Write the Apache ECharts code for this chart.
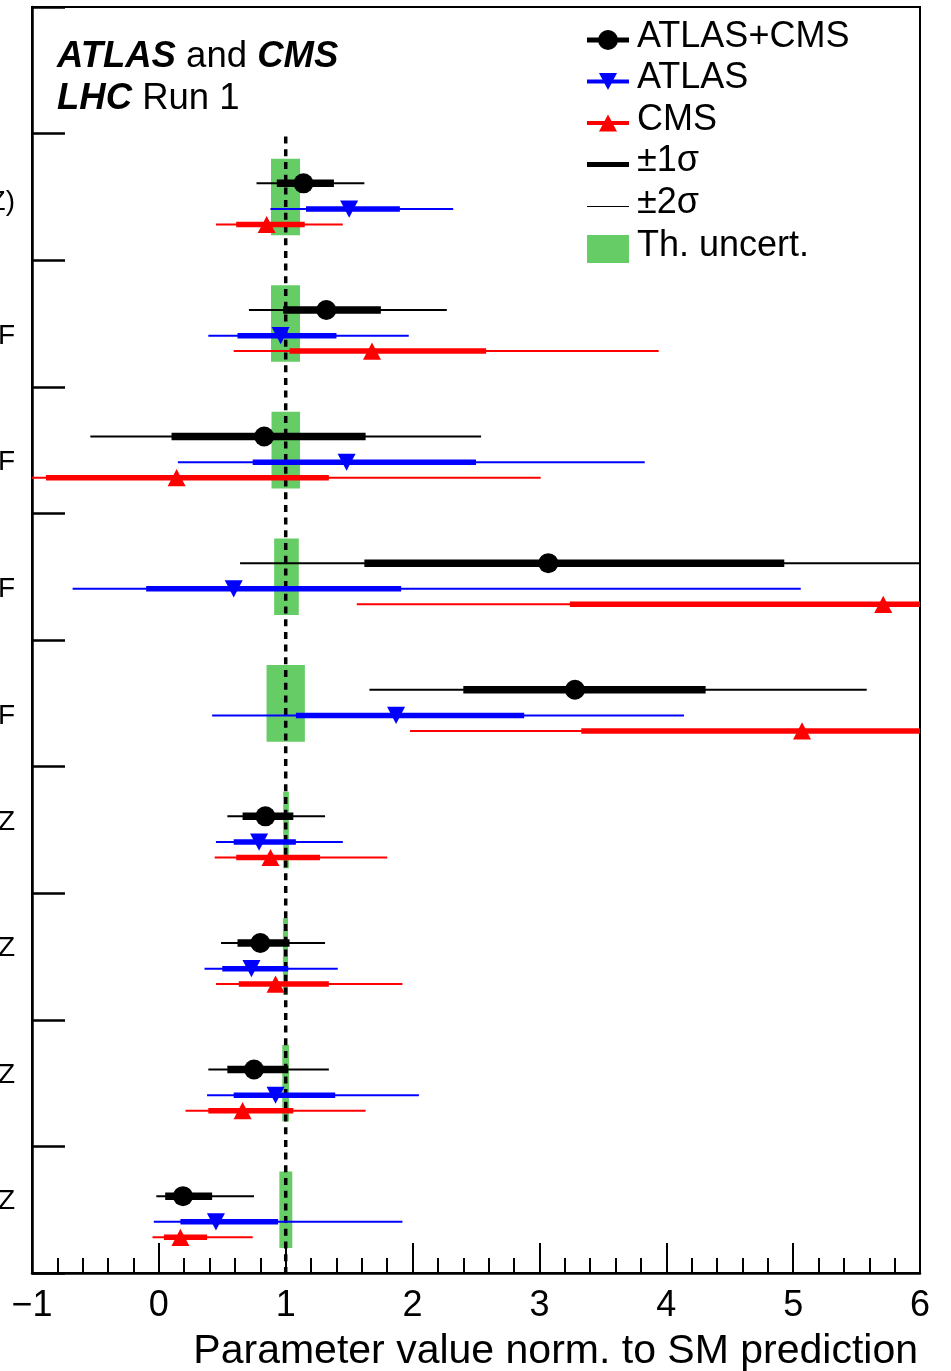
<!DOCTYPE html>
<html>
<head>
<meta charset="utf-8">
<script src="https://cdn.jsdelivr.net/npm/echarts@6/dist/echarts.min.js"></script>
<style>
  html, body { margin: 0; padding: 0; background: #ffffff; }
  #chart { width: 951px; height: 1371px; }
</style>
</head>
<body>
<div id="chart"></div>
<script>
// Fitted parameters, top to bottom (the first band is kept free for the header)
const parameters = ['', 'σ(gg→H→ZZ)', 'σVBF/σggF', 'σWH/σggF', 'σZH/σggF', 'σttH/σggF',
                    'BWW/BZZ', 'Bγγ/BZZ', 'Bττ/BZZ', 'Bbb/BZZ'];

// Each row: [best fit, 1σ low, 1σ high, 2σ low, 2σ high], normalised to the SM
const combined = [
  [1.14, 0.93, 1.38, 0.77, 1.62],
  [1.32, 0.98, 1.75, 0.71, 2.27],
  [0.83, 0.10, 1.63, -0.54, 2.54],
  [3.07, 1.62, 4.93, 0.64, 6.40],
  [3.28, 2.40, 4.31, 1.66, 5.58],
  [0.84, 0.66, 1.06, 0.54, 1.31],
  [0.80, 0.62, 1.03, 0.49, 1.31],
  [0.75, 0.54, 1.02, 0.39, 1.34],
  [0.19, 0.05, 0.42, -0.02, 0.75]
];
const atlas = [
  [1.50, 1.16, 1.90, 0.88, 2.32],
  [0.96, 0.62, 1.40, 0.39, 1.97],
  [1.48, 0.74, 2.50, 0.15, 3.83],
  [0.59, -0.10, 1.91, -0.68, 5.06],
  [1.87, 1.08, 2.88, 0.42, 4.14],
  [0.79, 0.59, 1.08, 0.45, 1.45],
  [0.73, 0.50, 1.02, 0.36, 1.41],
  [0.92, 0.59, 1.39, 0.38, 2.05],
  [0.45, 0.17, 0.94, -0.04, 1.92]
];
const cms = [
  [0.85, 0.61, 1.15, 0.45, 1.45],
  [1.68, 1.03, 2.58, 0.59, 3.94],
  [0.14, -0.89, 1.34, -1.30, 3.01],
  [5.71, 3.24, 7.00, 1.56, 8.50],
  [5.07, 3.33, 6.60, 1.98, 7.80],
  [0.88, 0.61, 1.27, 0.44, 1.80],
  [0.92, 0.63, 1.34, 0.45, 1.92],
  [0.66, 0.39, 1.06, 0.21, 1.63],
  [0.17, 0.04, 0.38, -0.05, 0.74]
];
// Theory uncertainty band on the SM prediction: [low, high]
const theory = [
  [0.884, 1.113], [0.884, 1.113], [0.888, 1.113], [0.909, 1.103], [0.849, 1.151],
  [0.980, 1.025], [0.978, 1.018], [0.973, 1.026], [0.950, 1.052]
];
const smValue = 1;
const xTickLabels = ['−1', '0', '1', '2', '3', '4', '5', '6'];
const legendLabels = ['ATLAS+CMS', 'ATLAS', 'CMS', '±1σ', '±2σ', 'Th. uncert.'];

const FONT = '"Liberation Sans", Arial, Helvetica, sans-serif';
const GREEN = '#66cc66';

const experiments = [
  { name: 'ATLAS+CMS', rows: combined, color: '#000000', offset: -0.107, thick: 7.5, marker: 'circle' },
  { name: 'ATLAS',     rows: atlas,    color: '#0000ff', offset:  0.096, thick: 5.5, marker: 'down' },
  { name: 'CMS',       rows: cms,      color: '#ff0000', offset:  0.218, thick: 5.5, marker: 'up' }
];

function markerShape(kind, x, y, color) {
  if (kind === 'circle') {
    return { type: 'circle', shape: { cx: x, cy: y, r: 10 }, style: { fill: color } };
  }
  const w = 9, h = 8.6;
  const pts = kind === 'down'
    ? [[x - w, y - h], [x + w, y - h], [x, y + h]]
    : [[x - w, y + h], [x + w, y + h], [x, y - h]];
  return { type: 'polygon', shape: { points: pts }, style: { fill: color } };
}

function errorBarSeries(exp) {
  return {
    type: 'custom',
    name: exp.name,
    clip: true,
    z: 3,
    data: exp.rows.map((r, i) => r.concat([i + 1])),
    encode: { x: [0, 1, 2, 3, 4], y: 5 },
    renderItem(params, api) {
      const cat = api.value(5);
      const band = api.size([0, 1])[1];
      const y = api.coord([0, cat])[1] + exp.offset * band;
      const px = (v) => api.coord([v, cat])[0];
      return {
        type: 'group',
        children: [
          { type: 'line', shape: { x1: px(api.value(3)), y1: y, x2: px(api.value(4)), y2: y },
            style: { stroke: exp.color, lineWidth: 2 } },
          { type: 'line', shape: { x1: px(api.value(1)), y1: y, x2: px(api.value(2)), y2: y },
            style: { stroke: exp.color, lineWidth: exp.thick } },
          markerShape(exp.marker, px(api.value(0)), y, exp.color)
        ]
      };
    }
  };
}

// Subscript endings (…ggF) sit lower, superscript endings (…ZZ) higher:
// an empty companion line above or below shifts the visible line.
function parameterLabel(name) {
  if (!name) return '';
  const blank = '\u00a0';
  if (name.indexOf('/σ') >= 0) return '{lo|' + blank + '}\n{lo|' + name + '}';
  if (name.charAt(0) === 'B') return '{hi|' + name + '}\n{hi|' + blank + '}';
  return '{mid|' + blank + '}\n{mid|' + name + '}';
}
const labelFont = { fontSize: 28, fontFamily: FONT, color: '#000000' };

// Legend drawn as graphic elements
const legendX0 = 587, legendX1 = 629, legendTextX = 637;
const legendRowY = [40, 81.5, 123, 164.5, 206.5, 249];
function legendIcon(i, y) {
  const mid = (legendX0 + legendX1) / 2;
  const line = (color, w) => ({ type: 'line', shape: { x1: legendX0, y1: y, x2: legendX1, y2: y },
                                style: { stroke: color, lineWidth: w } });
  switch (i) {
    case 0: return [line('#000000', 5), markerShape('circle', mid, y, '#000000')];
    case 1: return [line('#0000ff', 4), markerShape('down', mid, y, '#0000ff')];
    case 2: return [line('#ff0000', 4), markerShape('up', mid, y, '#ff0000')];
    case 3: return [line('#000000', 5)];
    case 4: return [line('#000000', 1.2)];
    default: return [{ type: 'rect', shape: { x: legendX0, y: y - 14, width: legendX1 - legendX0, height: 28 },
                       style: { fill: GREEN } }];
  }
}
const legendGraphics = [];
legendLabels.forEach((label, i) => {
  const y = legendRowY[i];
  legendIcon(i, y).forEach((el) => legendGraphics.push(el));
  legendGraphics.push({
    type: 'text',
    style: { text: label, x: legendTextX, y: y - 3, fill: '#000000', fontSize: 36, fontFamily: FONT,
             align: 'left', verticalAlign: 'middle', textAlign: 'left', textVerticalAlign: 'middle' }
  });
});

const boldItalic = { fontWeight: 'bold', fontStyle: 'italic', fontSize: 36.5, fontFamily: FONT, fill: '#000000' };
const headerGraphics = [
  { type: 'text', style: { text: '{b|ATLAS} and {b|CMS}', x: 57, y: 57, fill: '#000000', fontSize: 36.5, fontFamily: FONT,
      align: 'left', verticalAlign: 'middle', textAlign: 'left', textVerticalAlign: 'middle', rich: { b: boldItalic } } },
  { type: 'text', style: { text: '{b|LHC} Run 1', x: 57, y: 99, fill: '#000000', fontSize: 36.5, fontFamily: FONT,
      align: 'left', verticalAlign: 'middle', textAlign: 'left', textVerticalAlign: 'middle', rich: { b: boldItalic } } }
];

const chart = echarts.init(document.getElementById('chart'), null, { renderer: 'canvas' });
chart.setOption({
  animation: false,
  backgroundColor: '#ffffff',
  grid: { left: 32, right: 31, top: 7, bottom: 98, containLabel: false, outerBoundsMode: 'none',
          show: true, borderColor: '#000000', borderWidth: 2, backgroundColor: 'transparent' },
  xAxis: {
    type: 'value', min: -1, max: 6, interval: 1,
    axisLine: { show: true, onZero: false, lineStyle: { color: '#000000', width: 2.5 } },
    axisTick: { show: true, inside: true, length: 30, lineStyle: { color: '#000000', width: 2 } },
    minorTick: { show: true, splitNumber: 5, length: 15, lineStyle: { color: '#000000', width: 2 } },
    splitLine: { show: false },
    minorSplitLine: { show: false },
    axisLabel: { margin: 15, fontSize: 36, color: '#000000', fontFamily: FONT,
                 formatter: (v) => xTickLabels[Math.round(v + 1)] },
    name: 'Parameter value norm. to SM prediction',
    nameLocation: 'end', nameGap: 0,
    nameTextStyle: { fontSize: 41, fontFamily: FONT, color: '#000000', align: 'right', verticalAlign: 'top',
                     padding: [58, 2, 0, 0] }
  },
  yAxis: {
    type: 'category', inverse: true, boundaryGap: true,
    data: parameters,
    axisLine: { show: true, onZero: false, lineStyle: { color: '#000000', width: 2.5 } },
    axisTick: { show: true, inside: true, length: 33, alignWithLabel: false, interval: 0,
                lineStyle: { color: '#000000', width: 2.5 } },
    axisLabel: {
      show: true, interval: 0, margin: 17, fontSize: 28, color: '#000000', fontFamily: FONT,
      formatter: parameterLabel,
      rich: {
        lo: Object.assign({ lineHeight: 25 }, labelFont),
        hi: Object.assign({ lineHeight: 16 }, labelFont),
        mid: Object.assign({ lineHeight: 11 }, labelFont)
      }
    },
    splitLine: { show: false }
  },
  graphic: { elements: headerGraphics.concat(legendGraphics) },
  series: [
    {
      type: 'custom', name: 'Th. uncert.', clip: true, z: 1,
      data: theory.map((t, i) => [t[0], t[1], i + 1]),
      encode: { x: [0, 1], y: 2 },
      renderItem(params, api) {
        const cat = api.value(2);
        const band = api.size([0, 1])[1];
        const yc = api.coord([0, cat])[1];
        const x0 = api.coord([api.value(0), cat])[0];
        const x1 = api.coord([api.value(1), cat])[0];
        return { type: 'rect', shape: { x: x0, y: yc - 0.302 * band, width: x1 - x0, height: 0.605 * band },
                 style: { fill: GREEN } };
      }
    },
    {
      type: 'custom', name: 'SM', clip: true, z: 2,
      data: [[smValue, 1]],
      encode: { x: 0, y: 1 },
      renderItem(params, api) {
        const band = api.size([0, 1])[1];
        const x = api.coord([api.value(0), 1])[0];
        const yTop = api.coord([api.value(0), 1])[1] - band / 2 + 3;
        const yBottom = api.coord([api.value(0), parameters.length - 1])[1] + band / 2;
        return { type: 'line', shape: { x1: x, y1: yTop, x2: x, y2: yBottom },
                 style: { stroke: '#000000', lineWidth: 3.5, lineDash: [7, 5.7] } };
      }
    }
  ].concat(experiments.map(errorBarSeries))
});
</script>
</body>
</html>
